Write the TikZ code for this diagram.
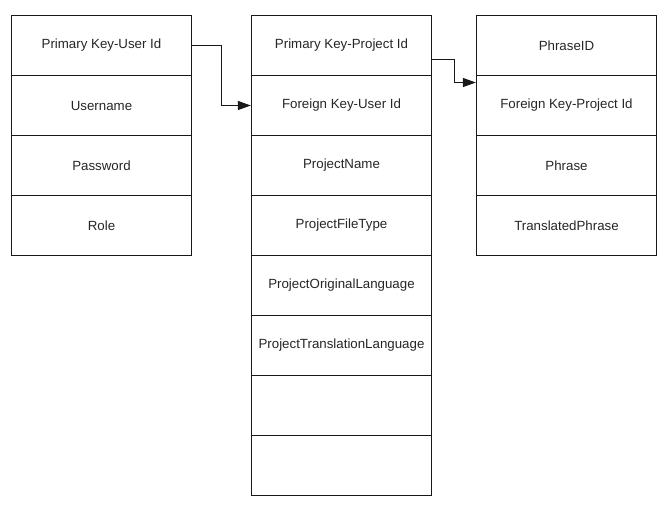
\documentclass[tikz,border=0pt]{standalone}
\usepackage{fontspec}
\setmainfont{Liberation Sans}
\usetikzlibrary{arrows.meta}
\begin{document}
\begin{tikzpicture}[x=1pt,y=-1pt,
  cell/.style={draw=black!90, line width=1.3pt, minimum width=180pt, minimum height=60pt, inner sep=0pt, font=\fontsize{13.3pt}{16pt}\selectfont, text=black!85},
  link/.style={draw=black!90, line width=1.3pt, -{Triangle[length=13pt,width=9pt]}}]
\useasboundingbox[fill=white] (0,0) rectangle (670,520);
% left table
\node[cell] (l1) at (101.5,45.5) {Primary Key-User Id};
\node[cell] (l2) at (101.5,105.5) {Username};
\node[cell] (l3) at (101.5,165.5) {Password};
\node[cell] (l4) at (101.5,225.5) {Role};
% middle table
\node[cell] (m1) at (341.5,45.5) {Primary Key-Project Id};
\node[cell] (m2) at (341.5,105.5) {Foreign Key-User Id};
\node[cell] (m3) at (341.5,165.5) {ProjectName};
\node[cell] (m4) at (341.5,225.5) {ProjectFileType};
\node[cell] (m5) at (341.5,285.5) {ProjectOriginalLanguage};
\node[cell] (m6) at (341.5,345.5) {ProjectTranslationLanguage};
\node[cell] (m7) at (341.5,405.5) {};
\node[cell] (m8) at (341.5,465.5) {};
% right table
\node[cell] (r1) at (566.5,45.5) {PhraseID};
\node[cell] (r2) at (566.5,105.5) {Foreign Key-Project Id};
\node[cell] (r3) at (566.5,165.5) {Phrase};
\node[cell] (r4) at (566.5,225.5) {TranslatedPhrase};
% connectors
\draw[link] (l1.east) -- ++(29.5,0) |- (m2.west);
\draw[link] ([yshift=-14pt]m1.east) -- ++(22,0) |- ([yshift=23pt]r2.west);
\end{tikzpicture}
\end{document}
